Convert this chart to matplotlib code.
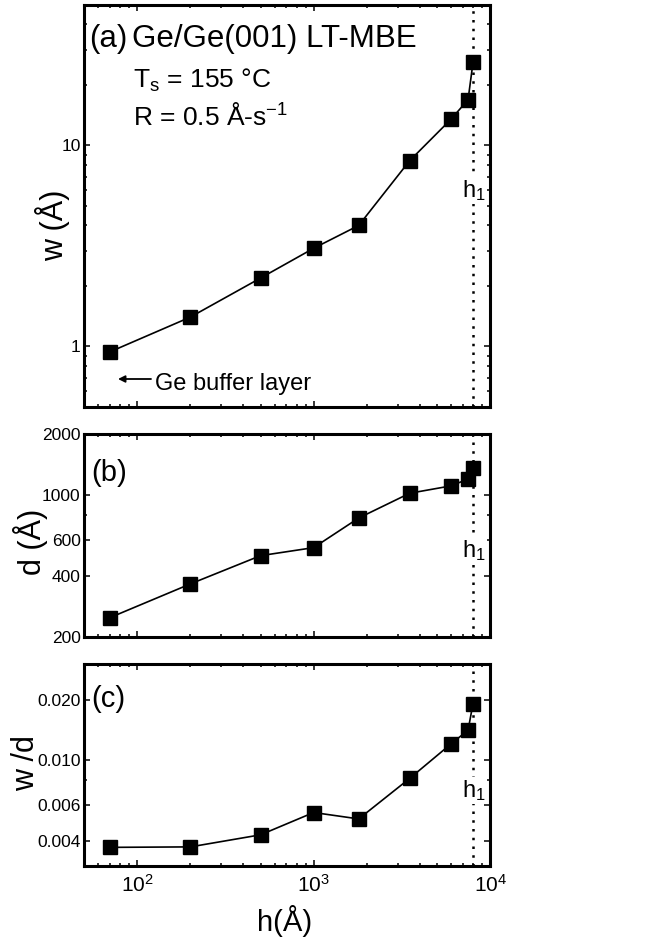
import matplotlib
matplotlib.use("Agg")
import matplotlib.pyplot as plt
from matplotlib.ticker import FixedLocator, FixedFormatter, LogLocator, NullFormatter

plt.rcParams["font.family"] = ["Liberation Sans", "DejaVu Sans"]
plt.rcParams["mathtext.fontset"] = "custom"
plt.rcParams["mathtext.rm"] = "Liberation Sans"
plt.rcParams["mathtext.it"] = "Liberation Sans:italic"
plt.rcParams["mathtext.default"] = "regular"

# film thickness h (Å)
h = [70, 200, 500, 1000, 1800, 3500, 6000, 7500, 8000]
# roughness w (Å), mound size d (Å), ratio w/d
w = [0.94, 1.40, 2.19, 3.08, 4.0, 8.4, 13.5, 16.9, 25.9]
d = [249, 365, 503, 551, 771, 1021, 1110, 1200, 1365]
w_over_d = [0.00371, 0.00373, 0.00428, 0.00552, 0.00513, 0.00814, 0.01206, 0.0141, 0.0191]
h1 = 8000

W, H = 652, 941


def fx(x):
    return x / W


def fy(y):
    return 1 - y / H


fig = plt.figure(figsize=(W / 100, H / 100), dpi=100)
ax_a = fig.add_axes([0.129, 0.5675, 0.6227, 0.4272])
ax_b = fig.add_axes([0.129, 0.3231, 0.6227, 0.2157])
ax_c = fig.add_axes([0.129, 0.0797, 0.6227, 0.2147])


def style_axis(ax, ylim, yticks, ylabels, yminor):
    ax.set_xscale("log")
    ax.set_yscale("log")
    ax.set_xlim(50, 1e4)
    ax.set_ylim(*ylim)
    ax.xaxis.set_major_locator(LogLocator(base=10))
    ax.xaxis.set_minor_locator(LogLocator(base=10, subs=range(2, 10)))
    ax.xaxis.set_minor_formatter(NullFormatter())
    ax.yaxis.set_major_locator(FixedLocator(yticks))
    ax.yaxis.set_major_formatter(FixedFormatter(ylabels))
    if yminor is None:
        ax.yaxis.set_minor_locator(LogLocator(base=10, subs=range(2, 10)))
    else:
        ax.yaxis.set_minor_locator(FixedLocator(yminor))
    ax.yaxis.set_minor_formatter(NullFormatter())
    ax.tick_params(which="both", direction="in", top=True, right=True, width=1.1)
    ax.tick_params(which="major", length=4.5, labelsize=12.5)
    ax.tick_params(which="minor", length=2.5)
    ax.tick_params(axis="y", pad=2.5)
    ax.tick_params(axis="x", pad=6, labelsize=15)
    for s in ax.spines.values():
        s.set_linewidth(2.2)


style_axis(ax_a, (0.5, 50), [1, 10], ["1", "10"], None)
style_axis(ax_b, (200, 2000), [200, 400, 600, 1000, 2000],
           ["200", "400", "600", "1000", "2000"], [800])
style_axis(ax_c, (0.003, 0.030), [0.004, 0.006, 0.010, 0.020],
           ["0.004", "0.006", "0.010", "0.020"], [0.008])
ax_a.tick_params(axis="x", labelbottom=False)
ax_b.tick_params(axis="x", labelbottom=False)

for ax, y in [(ax_a, w), (ax_b, d), (ax_c, w_over_d)]:
    ax.axvline(h1, color="black", lw=1.8, ls=(0, (1, 2.5)), zorder=1)
    ax.plot(h, y, color="black", lw=1.2, marker="s", ms=10,
            mfc="black", mec="black", zorder=3)

# panel texts
fig.text(fx(89), fy(47), "(a)", fontsize=22.5, ha="left", va="baseline")
fig.text(fx(132), fy(47), "Ge/Ge(001) LT-MBE", fontsize=22.5, ha="left", va="baseline")
fig.text(fx(133), fy(88), r"T$_\mathregular{s}$ = 155 °C", fontsize=19, ha="left", va="baseline")
fig.text(fx(133), fy(125), r"R = 0.5 Å-s$^\mathregular{-1}$", fontsize=19, ha="left", va="baseline")
fig.text(fx(91), fy(481), "(b)", fontsize=21, ha="left", va="baseline")
fig.text(fx(91), fy(707), "(c)", fontsize=21, ha="left", va="baseline")

for yb in [197, 557, 797]:
    fig.text(fx(474), fy(yb), r"h$_\mathregular{1}$", fontsize=17, ha="center", va="baseline",
             bbox=dict(facecolor="white", edgecolor="none", pad=0.5), zorder=5)

fig.text(fx(155), fy(390), "Ge buffer layer", fontsize=17, ha="left", va="baseline")
ax_a.annotate("", xy=(fx(118), fy(379)), xycoords="figure fraction",
              xytext=(fx(151), fy(379)), textcoords="figure fraction",
              arrowprops=dict(arrowstyle="-|>", lw=1.3, color="black",
                              mutation_scale=10, shrinkA=0, shrinkB=0))

# axis labels
for xb, yc, lab in [(63, 225, "w (Å)"), (41, 542, "d (Å)"), (34, 763, "w /d")]:
    fig.text(fx(xb), fy(yc), lab, fontsize=22, rotation=90, rotation_mode="anchor",
             ha="center", va="baseline")
fig.text(fx(285), fy(931), "h(Å)", fontsize=21, ha="center", va="baseline")

fig.savefig("out.png", dpi=100)
